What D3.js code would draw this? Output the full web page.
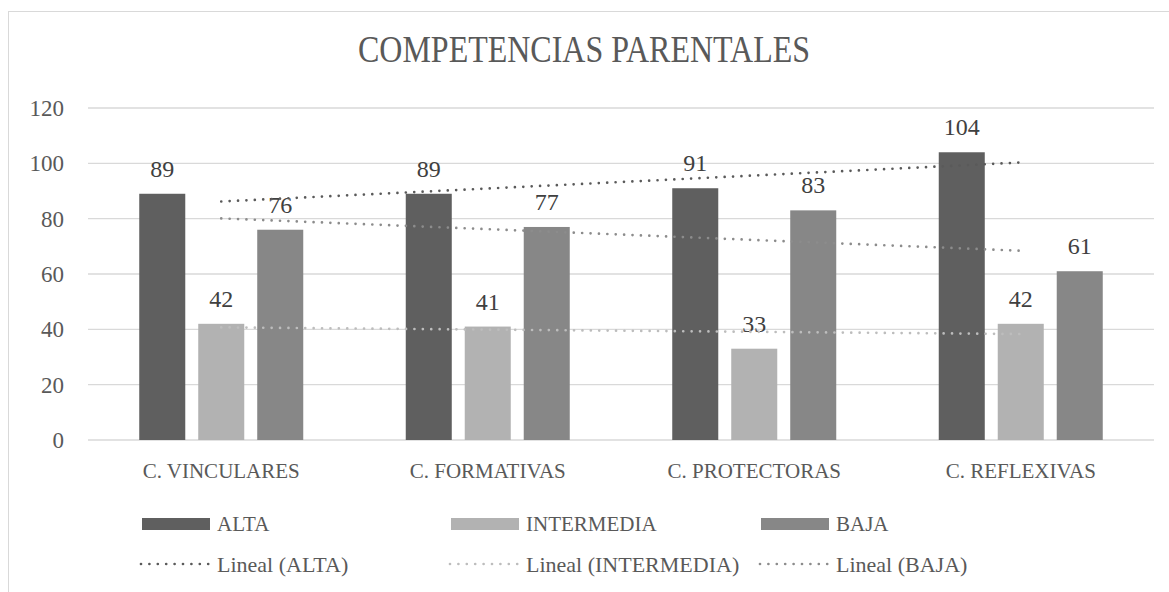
<!DOCTYPE html>
<html>
<head>
<meta charset="utf-8">
<script src="https://cdn.jsdelivr.net/npm/d3@7"></script>
<style>
  body { margin: 0; background: #fff; }
  text { font-family: "Liberation Serif", "DejaVu Serif", serif; fill: #595959; }
</style>
</head>
<body>
<svg id="chart" width="1169" height="592"></svg>
<script>
// datos
const categorias = ["C. VINCULARES", "C. FORMATIVAS", "C. PROTECTORAS", "C. REFLEXIVAS"];
const series = ["ALTA", "INTERMEDIA", "BAJA"];
const alta = [89, 89, 91, 104];
const intermedia = [42, 41, 33, 42];
const baja = [76, 77, 83, 61];
const yTicks = [0, 20, 40, 60, 80, 100, 120];

const valores = { ALTA: alta, INTERMEDIA: intermedia, BAJA: baja };
const colorBarra = { ALTA: "#5f5f5f", INTERMEDIA: "#b2b2b2", BAJA: "#878787" };
const colorTend = { ALTA: "#5a5a5a", INTERMEDIA: "#bdbdbd", BAJA: "#8c8c8c" };

const svg = d3.select("#chart");
const W = 1169, H = 592;
const plot = { left: 88, right: 1154, top: 108, bottom: 440 };

// marco del grafico
svg.append("rect")
  .attr("x", 8.5).attr("y", 11.5)
  .attr("width", W + 10).attr("height", H + 10)
  .attr("fill", "#fff").attr("stroke", "#d9d9d9").attr("stroke-width", 1);

svg.append("text")
  .attr("x", 358).attr("y", 62)
  .attr("textLength", 452).attr("lengthAdjust", "spacingAndGlyphs")
  .style("font-size", "37px")
  .text("COMPETENCIAS PARENTALES");

const y = d3.scaleLinear().domain([0, 120]).range([plot.bottom, plot.top]);
const x0 = d3.scaleBand().domain(categorias).range([plot.left, plot.right]);
const x1 = d3.scaleBand().domain(series).range([-82, 82]).paddingInner(0.22);

// rejilla
svg.append("g").selectAll("line")
  .data(yTicks).enter().append("line")
  .attr("x1", plot.left).attr("x2", plot.right)
  .attr("y1", d => y(d)).attr("y2", d => y(d))
  .attr("stroke", "#d9d9d9").attr("stroke-width", 1.3);

svg.append("g").selectAll("text")
  .data(yTicks).enter().append("text")
  .attr("x", 64).attr("y", d => y(d))
  .attr("dy", "0.35em")
  .attr("text-anchor", "end")
  .style("font-size", "23px")
  .text(d => d);

// barras
const grupos = svg.append("g").selectAll("g")
  .data(categorias).enter().append("g")
  .attr("transform", d => `translate(${x0(d) + x0.bandwidth() / 2},0)`);

grupos.selectAll("rect")
  .data((c, i) => series.map(s => ({ s, v: valores[s][i] })))
  .enter().append("rect")
  .attr("x", d => x1(d.s)).attr("width", x1.bandwidth())
  .attr("y", d => y(d.v)).attr("height", d => y(0) - y(d.v))
  .attr("fill", d => colorBarra[d.s]);

grupos.selectAll("text")
  .data((c, i) => series.map(s => ({ s, v: valores[s][i] })))
  .enter().append("text")
  .attr("x", d => x1(d.s) + x1.bandwidth() / 2)
  .attr("y", d => y(d.v) - 17)
  .attr("text-anchor", "middle")
  .style("font-size", "24px")
  .style("fill", "#404040")
  .text(d => d.v);

// lineas de tendencia (regresion lineal)
function regresion(vals) {
  const n = vals.length;
  const xs = vals.map((v, i) => i + 1);
  const mx = d3.mean(xs), my = d3.mean(vals);
  const b = d3.sum(xs, (xx, i) => (xx - mx) * (vals[i] - my)) / d3.sum(xs, xx => (xx - mx) ** 2);
  const a = my - b * mx;
  return [a + b * 1, a + b * n];
}

const cx = c => x0(c) + x0.bandwidth() / 2;
series.forEach(s => {
  const [y1v, y2v] = regresion(valores[s]);
  svg.append("line")
    .attr("x1", cx(categorias[0])).attr("x2", cx(categorias[categorias.length - 1]))
    .attr("y1", y(y1v)).attr("y2", y(y2v))
    .attr("stroke", colorTend[s]).attr("stroke-width", 2.7)
    .attr("stroke-linecap", "round")
    .attr("stroke-dasharray", "0 8.4");
});

// etiquetas de categoria
svg.append("g").selectAll("text")
  .data(categorias).enter().append("text")
  .attr("x", d => cx(d)).attr("y", 478)
  .attr("text-anchor", "middle")
  .style("font-size", "21px")
  .text(d => d);

// leyenda
const legX = [142, 451, 761];
series.forEach((s, i) => {
  svg.append("rect")
    .attr("x", legX[i]).attr("y", 518)
    .attr("width", 68).attr("height", 12)
    .attr("fill", colorBarra[s]);
  svg.append("text")
    .attr("x", legX[i] + 75).attr("y", 531)
    .style("font-size", "21px")
    .text(s);
  svg.append("line")
    .attr("x1", legX[i] - 1).attr("x2", legX[i] + 67)
    .attr("y1", 564).attr("y2", 564)
    .attr("stroke", colorTend[s]).attr("stroke-width", 2.7)
    .attr("stroke-linecap", "round")
    .attr("stroke-dasharray", "0 8.4");
  svg.append("text")
    .attr("x", legX[i] + 75).attr("y", 572)
    .style("font-size", "22px")
    .text(`Lineal (${s})`);
});
</script>
</body>
</html>
